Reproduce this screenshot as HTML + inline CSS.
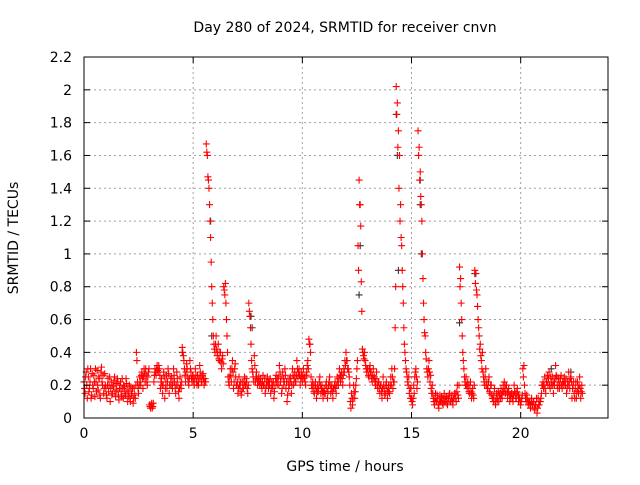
<!DOCTYPE html>
<html><head><meta charset="utf-8"><style>
body{margin:0;background:#fff;width:640px;height:480px;overflow:hidden}
svg text{font-family:"DejaVu Sans","Liberation Sans",sans-serif;font-size:14px;fill:#000}
</style></head><body>
<svg id="c" width="640" height="480" xmlns="http://www.w3.org/2000/svg">
<text x="345" y="32" text-anchor="middle">Day 280 of 2024, SRMTID for receiver cnvn</text>
<text x="345" y="471" text-anchor="middle">GPS time / hours</text>
<text transform="translate(18,238) rotate(-90)" text-anchor="middle">SRMTID / TECUs</text>
<g id="grid"></g><g id="pts"></g><g id="axes"></g>
</svg>
<script>
const step = 0.05;
const values = [
.22,.15,.28,.12,.25,.18,.3,.14,.2,.26,.13,.22,.29,.17,.24,.12,.31,.2,.15,.27,
.18,.12,.24,.2,.1,.22,.15,.19,.25,.13,.17,.22,.11,.2,.16,.24,.12,.19,.14,.21,
.1,.16,.12,.19,.14,.09,.18,.12,.4,.22,.15,.25,.2,.28,.18,.3,.22,.26,.2,.28,
.08,.06,.09,.07,.22,.3,.26,.32,.28,.3,.18,.24,.15,.28,.12,.22,.18,.3,.15,.2,
.25,.18,.3,.22,.15,.28,.2,.12,.25,.18,.43,.38,.3,.22,.33,.25,.2,.35,.28,.22,
.25,.2,.3,.22,.26,.2,.32,.25,.22,.27,.2,.24,1.67,1.6,1.45,1.3,1.1,.8,.6,.45,
.4,.5,.38,.45,.35,.4,.3,.38,.8,.75,.7,.5,.25,.2,.3,.22,.35,.18,.3,.25,
.2,.15,.25,.18,.14,.22,.18,.25,.2,.22,.15,.7,.62,.45,.3,.25,.38,.22,.28,.2,
.25,.2,.22,.18,.26,.2,.15,.22,.25,.18,.2,.15,.22,.18,.12,.2,.26,.2,.25,.32,
.22,.15,.28,.2,.3,.18,.1,.22,.2,.25,.15,.3,.2,.28,.22,.35,.25,.3,.2,.28,
.22,.3,.25,.2,.28,.35,.48,.45,.25,.18,.2,.15,.22,.12,.2,.18,.25,.15,.2,.12,
.18,.15,.22,.12,.2,.25,.15,.2,.12,.18,.22,.15,.25,.2,.3,.22,.28,.2,.3,.35,
.4,.35,.3,.25,.1,.15,.08,.2,.12,.2,.3,1.05,1.45,1.3,.83,.42,.38,.4,.32,.28,
.3,.25,.32,.28,.22,.3,.25,.2,.28,.18,.22,.15,.2,.12,.25,.18,.15,.22,.12,.2,
.15,.25,.3,.18,.22,.55,2.02,1.92,1.75,1.6,1.3,1.05,.8,.55,.4,.3,.25,.2,.15,.12,
.12,.08,.2,.25,.3,.18,1.75,1.65,1.5,1.3,1.0,.7,.52,.4,.3,.25,.35,.22,.18,.2,
.12,.08,.15,.1,.12,.06,.14,.1,.12,.08,.15,.1,.13,.08,.12,.15,.1,.14,.08,.12,
.15,.1,.2,.12,.92,.85,.6,.4,.3,.22,.25,.18,.2,.15,.22,.12,.18,.12,.9,.88,
.75,.6,.5,.45,.35,.4,.25,.2,.3,.22,.18,.25,.15,.2,.12,.1,.18,.08,.15,.12,
.1,.15,.18,.12,.2,.22,.15,.2,.12,.18,.1,.12,.15,.1,.2,.15,.12,.18,.1,.12,
.08,.12,.3,.32,.15,.1,.12,.08,.1,.06,.12,.08,.1,.05,.08,.03,.12,.08,.1,.15,
.2,.18,.25,.15,.22,.2,.28,.18,.22,.25,.15,.2,.32,.25,.18,.22,.2,.26,.18,.22,
.25,.2,.15,.22,.28,.18,.25,.12,.2,.15,.18,.12,.22,.15,.25,.12,.2];
const values2 = [
.18,.25,.2,.3,.16,.22,.12,.27,.18,.22,.3,.16,.2,.25,.14,.28,.22,.26,.18,.2,
.14,.2,.16,.25,.18,.14,.2,.23,.16,.21,.24,.14,.18,.22,.13,.18,.2,.15,.24,.17,
.13,.2,.1,.15,.18,.12,.14,.2,.35,.18,.2,.22,.26,.24,.25,.27,.3,.22,.25,.3,
.07,.08,.06,.09,.26,.28,.3,.29,.32,.26,.22,.2,.2,.25,.18,.26,.22,.27,.2,.24,
.2,.22,.26,.18,.2,.24,.16,.18,.2,.22,.4,.35,.26,.28,.3,.22,.24,.3,.24,.26,
.22,.24,.26,.2,.22,.24,.28,.22,.26,.24,.22,.22,1.62,1.47,1.4,1.2,.95,.7,.5,.42,
.45,.42,.4,.36,.4,.34,.36,.33,.78,.82,.6,.4,.22,.25,.26,.3,.28,.22,.33,.2,
.22,.18,.2,.22,.16,.18,.22,.2,.24,.18,.2,.65,.55,.35,.28,.22,.32,.25,.24,.22,
.22,.24,.2,.22,.2,.24,.18,.2,.22,.22,.24,.18,.2,.22,.16,.24,.22,.24,.2,.28,
.25,.18,.24,.22,.26,.22,.14,.18,.24,.22,.2,.26,.24,.22,.26,.3,.28,.26,.24,.25,
.26,.24,.22,.26,.32,.3,.45,.4,.2,.22,.16,.2,.18,.16,.16,.22,.2,.18,.16,.16,
.15,.2,.18,.16,.22,.2,.18,.16,.18,.2,.18,.2,.22,.24,.26,.26,.24,.26,.28,.32,
.35,.3,.28,.2,.06,.12,.12,.16,.16,.24,.35,.9,1.3,1.17,.65,.4,.36,.35,.3,.3,
.26,.3,.28,.24,.26,.24,.22,.24,.2,.22,.18,.2,.16,.18,.2,.14,.2,.18,.16,.16,
.2,.2,.25,.22,.3,.8,1.85,1.65,1.4,1.2,1.1,.9,.7,.45,.35,.28,.22,.25,.18,.18,
.1,.12,.15,.28,.25,.22,1.6,1.45,1.35,1.2,.85,.6,.5,.36,.28,.3,.28,.26,.15,.15,
.1,.12,.1,.14,.08,.1,.1,.13,.09,.12,.1,.13,.09,.12,.14,.1,.12,.1,.12,.15,
.12,.16,.14,.2,.8,.7,.5,.35,.25,.2,.2,.22,.16,.2,.16,.15,.14,.2,.82,.78,
.68,.55,.42,.38,.3,.28,.22,.25,.2,.18,.22,.16,.2,.14,.12,.14,.1,.12,.1,.16,
.14,.12,.14,.16,.16,.18,.2,.16,.16,.14,.14,.15,.12,.14,.16,.12,.16,.14,.14,.1,
.1,.14,.25,.2,.12,.14,.1,.1,.08,.1,.08,.1,.06,.08,.12,.06,.08,.1,.12,.2,
.22,.2,.18,.22,.26,.24,.2,.25,.2,.2,.22,.24,.26,.2,.24,.18,.24,.2,.22,.2,
.22,.24,.18,.2,.22,.24,.22,.18,.22,.12,.22,.16,.18,.2,.18,.16,.15];
const blackHours = [0,4.5,5.8,5.85,7.65,7.7,12.6,12.65,14.3,14.35,14.4,15.4,15.4,15.45,17.2,17.9,21.4,22.3];
const blackValues = [.22,.4,1.2,.5,.62,.55,.75,1.05,1.85,1.6,.9,1.45,1.3,1.0,.58,.88,.3,.28];
const xTicks = [0,5,10,15,20];
const yTicks = [0,0.2,0.4,0.6,0.8,1,1.2,1.4,1.6,1.8,2,2.2];
const yTickLabels = ["0","0.2","0.4","0.6","0.8","1","1.2","1.4","1.6","1.8","2","2.2"];

const L=84,R=608,T=57,B=418;
const xs=h=>L+h*(R-L)/24, ys=v=>B-v*(B-T)/2.2;
const NS="http://www.w3.org/2000/svg";
function mk(tag,parent,attrs){const e=document.createElementNS(NS,tag);for(const k in attrs)e.setAttribute(k,attrs[k]);parent.appendChild(e);return e;}
const grid=document.getElementById('grid'),pts=document.getElementById('pts'),axes=document.getElementById('axes');
xTicks.forEach(t=>{
  const x=xs(t);
  if(t>0){const g=mk('line',grid,{x1:x,x2:x,y1:T,y2:B,stroke:'#a0a0a0','stroke-dasharray':'2,3'});
  
  }
  mk('line',axes,{x1:x,x2:x,y1:B,y2:B-6,stroke:'#000'});
  mk('line',axes,{x1:x,x2:x,y1:T,y2:T+6,stroke:'#000'});
  const tx=mk('text',axes,{x:x,y:B+20,'text-anchor':'middle'});tx.textContent=t;
  
  
});
yTicks.forEach((t,i)=>{
  const y=ys(t);
  if(i>0&&i<yTicks.length-1){const g=mk('line',grid,{x1:L,x2:R,y1:y,y2:y,stroke:'#a0a0a0','stroke-dasharray':'2,3'});
  
  }
  mk('line',axes,{x1:L,x2:L+6,y1:y,y2:y,stroke:'#000'});
  mk('line',axes,{x1:R,x2:R-6,y1:y,y2:y,stroke:'#000'});
  const tx=mk('text',axes,{x:L-12,y:y+5,'text-anchor':'end'});tx.textContent=yTickLabels[i];
  
  
});
const fr=mk('rect',axes,{x:L,y:T,width:R-L,height:B-T,fill:'none',stroke:'#000'});


function plus(x,y,col){
  return mk('path',pts,{d:`M${x-3.5},${y}h7M${x},${y-3.5}v7`,stroke:col,'stroke-width':1.1});
}
blackHours.forEach((h,i)=>{
  const p=plus(xs(h),ys(blackValues[i]),'#333');
  
  
});
values.forEach((v,i)=>{
  const p=plus(xs(i*step),ys(v),'#ff0000');
  
  
});
values2.forEach((v,i)=>{
  const p=plus(xs(i*step+step/2),ys(v),'#ff0000');
  
  
});
</script>
</body></html>
